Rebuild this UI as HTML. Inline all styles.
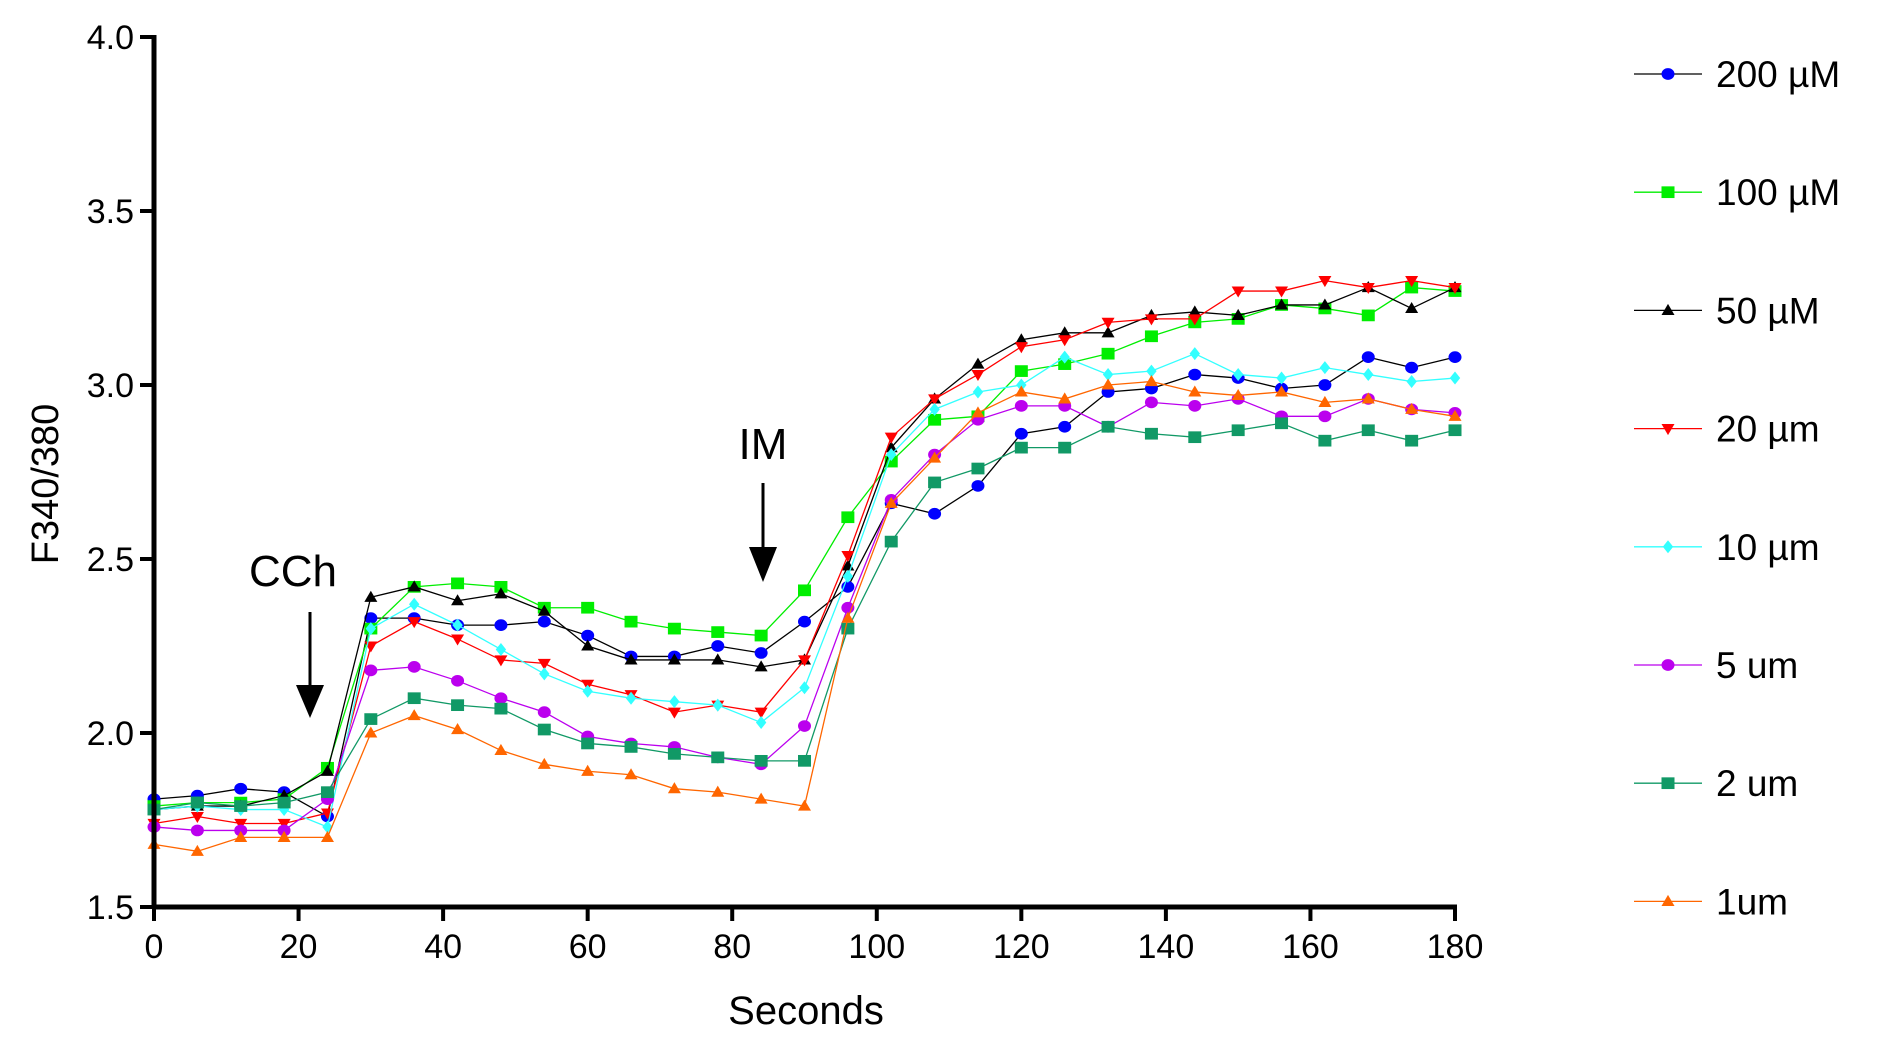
<!DOCTYPE html>
<html><head><meta charset="utf-8">
<style>
html,body{margin:0;padding:0;background:#fff;}
svg{display:block;font-family:"Liberation Sans",Arial,sans-serif;}
</style></head>
<body>
<svg id="chart" width="1881" height="1056" viewBox="0 0 1881 1056"></svg>
<script>
const times = [0,6,12,18,24,30,36,42,48,54,60,66,72,78,84,90,96,102,108,114,120,126,132,138,144,150,156,162,168,174,180];
const seriesNames = ["200 \u00b5M","100 \u00b5M","50 \u00b5M","20 \u00b5m","10 \u00b5m","5 um","2 um","1um"];
const s200 = [1.81,1.82,1.84,1.83,1.76,2.33,2.33,2.31,2.31,2.32,2.28,2.22,2.22,2.25,2.23,2.32,2.42,2.66,2.63,2.71,2.86,2.88,2.98,2.99,3.03,3.02,2.99,3.00,3.08,3.05,3.08];
const s100 = [1.79,1.80,1.80,1.81,1.90,2.30,2.42,2.43,2.42,2.36,2.36,2.32,2.30,2.29,2.28,2.41,2.62,2.78,2.90,2.91,3.04,3.06,3.09,3.14,3.18,3.19,3.23,3.22,3.20,3.28,3.27];
const s50 = [1.78,1.79,1.79,1.82,1.89,2.39,2.42,2.38,2.40,2.35,2.25,2.21,2.21,2.21,2.19,2.21,2.48,2.82,2.96,3.06,3.13,3.15,3.15,3.20,3.21,3.20,3.23,3.23,3.28,3.22,3.28];
const s20 = [1.74,1.76,1.74,1.74,1.77,2.25,2.32,2.27,2.21,2.20,2.14,2.11,2.06,2.08,2.06,2.21,2.51,2.85,2.96,3.03,3.11,3.13,3.18,3.19,3.19,3.27,3.27,3.30,3.28,3.30,3.28];
const s10 = [1.78,1.79,1.78,1.78,1.73,2.30,2.37,2.31,2.24,2.17,2.12,2.10,2.09,2.08,2.03,2.13,2.45,2.80,2.93,2.98,3.00,3.08,3.03,3.04,3.09,3.03,3.02,3.05,3.03,3.01,3.02];
const s5 = [1.73,1.72,1.72,1.72,1.81,2.18,2.19,2.15,2.10,2.06,1.99,1.97,1.96,1.93,1.91,2.02,2.36,2.67,2.80,2.90,2.94,2.94,2.88,2.95,2.94,2.96,2.91,2.91,2.96,2.93,2.92];
const s2 = [1.78,1.80,1.79,1.80,1.83,2.04,2.10,2.08,2.07,2.01,1.97,1.96,1.94,1.93,1.92,1.92,2.30,2.55,2.72,2.76,2.82,2.82,2.88,2.86,2.85,2.87,2.89,2.84,2.87,2.84,2.87];
const s1 = [1.68,1.66,1.70,1.70,1.70,2.00,2.05,2.01,1.95,1.91,1.89,1.88,1.84,1.83,1.81,1.79,2.33,2.66,2.79,2.92,2.98,2.96,3.00,3.01,2.98,2.97,2.98,2.95,2.96,2.93,2.91];
const xTicks = [0,20,40,60,80,100,120,140,160,180];
const yTicks = [1.5,2.0,2.5,3.0,3.5,4.0];

const allSeries = [s200,s100,s50,s20,s10,s5,s2,s1];
const colors = ["#0000ff","#00ee00","#000000","#ff0000","#33ffff","#bb00ee","#119966","#ff6600"];
const markers = ["circle","square","tri","tridown","diamond","circle","square","tri"];
const lineColors = ["#000000","#00ee00","#000000","#ff0000","#33ffff","#bb00ee","#119966","#ff6600"];

const X0=154, X1=1455, Y0=907, Y1=37;
const xs = v => X0 + (v-0)/(180-0)*(X1-X0);
const ys = v => Y0 - (v-1.5)/(4.0-1.5)*(Y0-Y1);
const NS="http://www.w3.org/2000/svg";
const svg=document.getElementById('chart');
function mk(tag,attrs,parent){const e=document.createElementNS(NS,tag);for(const k in attrs)e.setAttribute(k,attrs[k]);(parent||svg).appendChild(e);return e;}

function marker(g,type,x,y,c){
  const r=6.5;let e;
  if(type==="circle") e=mk('ellipse',{cx:x,cy:y,rx:r,ry:r*0.9,fill:c},g);
  else if(type==="square") e=mk('rect',{x:x-r,y:y-r*0.9,width:2*r,height:1.8*r,fill:c},g);
  else if(type==="tri") e=mk('polygon',{points:`${x},${y-r} ${x-r},${y+r*0.7} ${x+r},${y+r*0.7}`,fill:c},g);
  else if(type==="tridown") e=mk('polygon',{points:`${x},${y+r} ${x-r},${y-r*0.7} ${x+r},${y-r*0.7}`,fill:c},g);
  else e=mk('polygon',{points:`${x},${y-r} ${x+r*0.8},${y} ${x},${y+r} ${x-r*0.8},${y}`,fill:c},g);
  
  
}

allSeries.forEach((arr,i)=>{
  const g=mk('g',{});
  
  
  const pts=arr.map((v,j)=>xs(times[j])+','+ys(v)).join(' ');
  const pl=mk('polyline',{points:pts,fill:'none',stroke:lineColors[i],'stroke-width':1.3},g);
  
  
  arr.forEach((v,j)=>marker(g,markers[i],xs(times[j]),ys(v),colors[i]));
});

const ax=mk('g',{});


mk('line',{x1:X0,y1:Y1-2,x2:X0,y2:Y0+2,stroke:'#000','stroke-width':5},ax);
mk('line',{x1:X0-2,y1:Y0,x2:X1+2,y2:Y0,stroke:'#000','stroke-width':5},ax);
yTicks.forEach(t=>{
  const y=ys(t);
  mk('line',{x1:X0-14,y1:y,x2:X0,y2:y,stroke:'#000','stroke-width':4},ax);
  const tx=mk('text',{x:X0-20,y:y+12,'text-anchor':'end','font-size':34,fill:'#000'},ax);
  tx.textContent=t.toFixed(1);
  
  
});
xTicks.forEach(t=>{
  const x=xs(t);
  mk('line',{x1:x,y1:Y0,x2:x,y2:Y0+14,stroke:'#000','stroke-width':4},ax);
  const tx=mk('text',{x:x,y:958,'text-anchor':'middle','font-size':34,fill:'#000'},ax);
  tx.textContent=t;
  
  
});

const lg=mk('g',{});


seriesNames.forEach((n,i)=>{
  const y=74+118.2*i;
  const g=mk('g',{},lg);
  
  
  mk('line',{x1:1634,y1:y,x2:1702,y2:y,stroke:lineColors[i],'stroke-width':1.3},g);
  marker(g,markers[i],1668,y,colors[i]);
  const t=mk('text',{x:1716,y:y+13,'font-size':37,fill:'#000'},g);
  t.textContent=n;
});
</script>
<svg style="position:absolute;left:0;top:0" width="1881" height="1056">
  <text x="48" y="484" transform="rotate(-90 48 484)" text-anchor="middle" dominant-baseline="middle" font-size="38" font-family="Liberation Sans, sans-serif">F340/380</text>
  <text x="806" y="1024" text-anchor="middle" font-size="40" font-family="Liberation Sans, sans-serif">Seconds</text>
  <text x="293" y="586" text-anchor="middle" font-size="44" font-family="Liberation Sans, sans-serif">CCh</text>
  <g>
    <line x1="310" y1="612" x2="310" y2="692" stroke="#000" stroke-width="3"/>
    <polygon points="296,685 324,685 310,718" fill="#000"/>
  </g>
  <text x="763" y="459" text-anchor="middle" font-size="44" font-family="Liberation Sans, sans-serif">IM</text>
  <g>
    <line x1="763" y1="483" x2="763" y2="552" stroke="#000" stroke-width="3"/>
    <polygon points="749,547 777,547 763,582" fill="#000"/>
  </g>
</svg>
</body></html>
